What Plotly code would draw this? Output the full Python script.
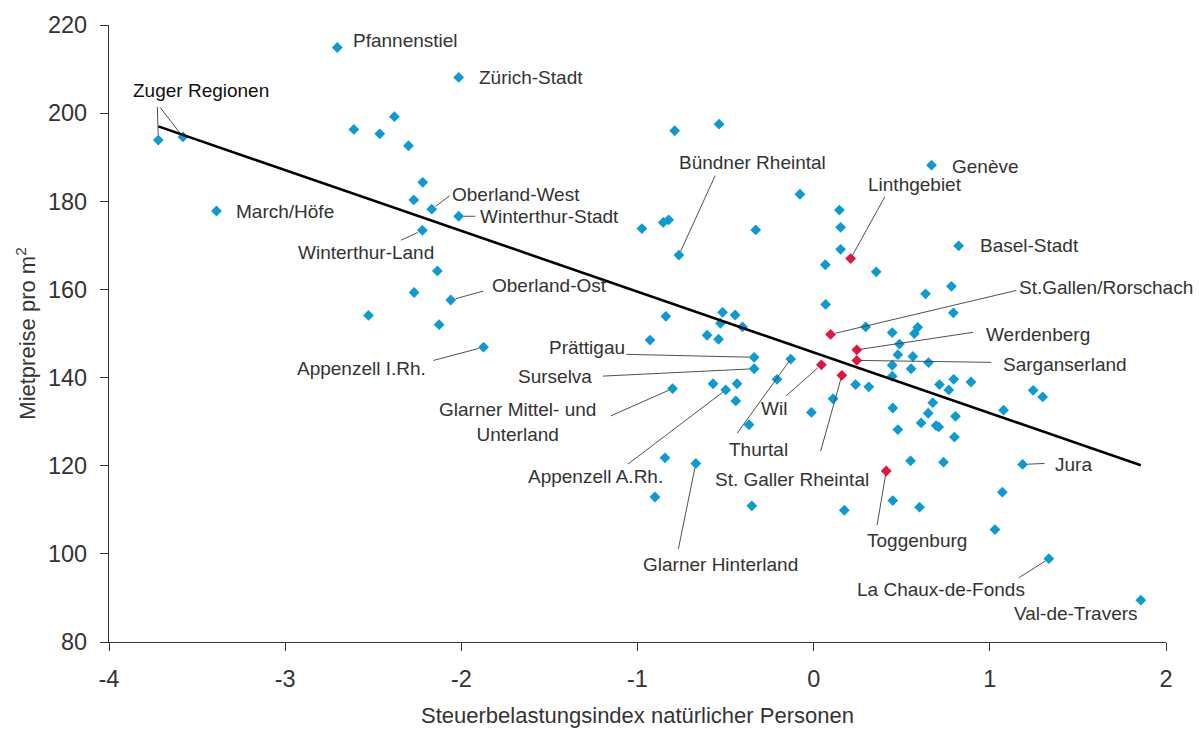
import plotly.graph_objects as go

# ---------------- data ----------------
# blue: regions (x = Steuerbelastungsindex, y = Mietpreise pro m2)
blue_names = [
    "Pfannenstiel", "Zürich-Stadt", "Zuger1", "Zuger2", "March/Höfe",
    "", "", "", "", "", "", "Oberland-West", "Winterthur-Land", "", "",
    "Winterthur-Stadt", "Oberland-Ost", "", "", "", "", "", "Bündner Rheintal",
    "", "", "", "", "", "", "Genève", "Basel-Stadt", "", "", "", "", "", "",
    "", "", "", "", "", "", "", "", "", "Thurtal", "", "", "", "", "", "",
    "", "", "", "", "", "", "", "", "", "", "", "", "", "", "", "", "",
    "Jura", "", "", "", "", "", "La Chaux-de-Fonds", "Val-de-Travers", "", "",
    "Appenzell I.Rh.", "", "", "", "", "", "", "", "", "Prättigau", "Surselva",
    "", "", "", "Appenzell A.Rh.", "", "Glarner Mittel- und<br>Unterland", "",
    "", "Glarner Hinterland", "", "",
]
blue_x = [
    -2.704, -2.015, -3.72, -3.58, -3.39,
    -2.61, -2.463, -2.38, -2.30, -2.219, -2.27, -2.168, -2.221, -2.136, -2.268,
    -2.015, -2.06, -0.975, -0.854, -0.823, -0.789, -0.537, -0.765,
    -0.329, -0.078, 0.146, 0.153, 0.153, 0.066, 0.669, 0.823, 0.355, 0.782, 0.635, 0.068, 0.793, 0.295,
    0.446, 0.591, 0.572, 0.487, 0.478, 0.563, 0.652, 0.446, 0.553, -0.130, 0.446, 0.238, 0.313, 0.714, 0.795, 0.893,
    0.767, 1.246, 1.30, 0.110, -0.013, 0.449, 0.676, 0.650, 0.805, 1.078, 0.478, 0.610, 0.695, 0.710, 0.799, 0.550, 0.737,
    1.186, 1.071, 0.449, 0.601, 0.174, 1.029, 1.335, 1.857, -2.527, -2.126,
    -1.874, -0.839, -0.517, -0.446, -0.529, -0.404, -0.605, -0.540, -0.929, -0.338, -0.338,
    -0.208, -0.571, -0.435, -0.499, -0.442, -0.801, -0.367,
    -0.844, -0.669, -0.901, -0.351,
]
blue_y = [
    214.9, 208.1, 193.9, 194.6, 177.8,
    196.3, 195.3, 199.2, 192.6, 184.3, 180.3, 178.2, 173.4, 164.2, 159.3,
    176.6, 157.6, 173.8, 175.2, 175.8, 196.0, 197.5, 167.8,
    173.5, 181.6, 178.0, 174.1, 169.1, 165.6, 188.2, 169.9, 164.0, 160.7, 159.0, 156.6, 154.7, 151.5,
    150.2, 151.4, 150.0, 147.6, 145.2, 144.8, 143.4, 142.8, 142.0, 144.2, 140.3, 138.4, 137.9, 138.4, 139.6, 139.0,
    137.2, 137.1, 135.6, 135.2, 132.1, 133.1, 134.3, 131.9, 131.2, 132.6, 128.2, 129.7, 129.1, 128.8, 126.5, 121.1, 120.8,
    120.3, 114.0, 112.1, 110.6, 109.9, 105.5, 98.9, 89.5, 154.1, 152.0,
    146.9, 153.9, 154.8, 154.2, 152.3, 151.5, 149.6, 148.7, 148.5, 144.6, 142.0,
    139.6, 138.6, 138.6, 137.2, 134.7, 137.5, 129.3,
    121.8, 120.5, 112.9, 110.9,
]

# red: St. Gallen regions
red_names = ["Linthgebiet", "St.Gallen/Rorschach", "Werdenberg", "Sarganserland",
             "Wil", "St. Galler Rheintal", "Toggenburg"]
red_x = [0.210, 0.096, 0.245, 0.245, 0.044, 0.160, 0.412]
red_y = [167.0, 149.8, 146.3, 143.9, 142.9, 140.5, 118.8]

# regression line
line_x = [-3.72, 1.857]
line_y = [197.0, 120.1]

x_ticks = [-4, -3, -2, -1, 0, 1, 2]
y_ticks = [80, 100, 120, 140, 160, 180, 200, 220]

BLUE = "#0B9BD1"
RED = "#E0163F"
FONT = "Liberation Sans, Arial, sans-serif"
TXT = "#333333"
LEAD = "#3c3c3c"

# label placement: name -> (xanchor, xshift, yshift, [(ax, ay, standoff), ...])
place = {
    "Pfannenstiel": ("left", 14, 7, []),
    "Zürich-Stadt": ("left", 18, 0, []),
    "March/Höfe": ("left", 18, -1, []),
    "Oberland-West": ("left", 18.7, 14.3, [(19.4, -14.6, 5)]),
    "Winterthur-Stadt": ("left", 19, 0, [(18, 0, 5)]),
    "Winterthur-Land": ("center", -56, -22.6, [(-23, 10.6, 5)]),
    "Oberland-Ost": ("left", 39, 14.3, [(34, -9.3, 5)]),
    "Appenzell I.Rh.": ("right", -55.6, -21.2, [(-51.6, 13.7, 5)]),
    "Bündner Rheintal": ("center", 74, 92.7, [(37, -81, 4)]),
    "Genève": ("left", 18, -1.3, []),
    "Basel-Stadt": ("left", 19, 0, []),
    "Thurtal": ("center", -32.4, -90.7, [(-54.7, 75.7, 2)]),
    "Jura": ("left", 30, 0, [(23.4, -1, 5)]),
    "La Chaux-de-Fonds": ("right", -21.4, -30.8, [(-31.4, 20, 4)]),
    "Val-de-Travers": ("right", -1, -13.8, []),
    "Prättigau": ("right", -127.6, 9.8, [(-129.3, -3, 5)]),
    "Surselva": ("right", -160, -7.4, [(-152.6, 7.4, 5)]),
    "Appenzell A.Rh.": ("center", -130.7, -86.3, [(-99.3, 75.3, 4)]),
    "Glarner Mittel- und<br>Unterland": ("center", -154.7, -33.2, [(-63.4, 28, 4)]),
    "Glarner Hinterland": ("center", 24.8, -100.5, [(-17.7, 86.7, 5)]),
    "Linthgebiet": ("center", 64.3, 73.8, [(35, -63.3, 4)]),
    "St.Gallen/Rorschach": ("left", 186.3, 46.6, [(187.3, -44.3, 5)]),
    "Werdenberg": ("left", 126.7, 15.5, [(117.7, -17.7, 4)]),
    "Sarganserland": ("left", 143.7, -3.8, [(136, 2, 4)]),
    "Wil": ("center", -47.7, -43.7, [(-36.7, 32.3, 5)]),
    "St. Galler Rheintal": ("center", -49.8, -104.5, [(-21.6, 77.3, 3)]),
    "Toggenburg": ("center", 30.5, -69.3, [(-9.4, 55.6, 3)]),
}

fig = go.Figure()
fig.add_trace(go.Scatter(x=blue_x, y=blue_y, mode="markers",
                         marker=dict(symbol="diamond", size=8.3, color=BLUE, line=dict(width=0)),
                         hoverinfo="skip", showlegend=False))
fig.add_trace(go.Scatter(x=line_x, y=line_y, mode="lines",
                         line=dict(color="#000000", width=2.6),
                         hoverinfo="skip", showlegend=False))
fig.add_trace(go.Scatter(x=red_x, y=red_y, mode="markers",
                         marker=dict(symbol="diamond", size=8.3, color=RED, line=dict(width=0)),
                         hoverinfo="skip", showlegend=False))

annotations = []


def point_of(name):
    if name in red_names:
        i = red_names.index(name)
        return red_x[i], red_y[i]
    i = blue_names.index(name)
    return blue_x[i], blue_y[i]


for name, (xa, xs, ys, leads) in place.items():
    px, py = point_of(name)
    annotations.append(dict(x=px, y=py, xref="x", yref="y", text=name, showarrow=False,
                            xanchor=xa, yanchor="middle", xshift=xs, yshift=ys, align="center",
                            font=dict(family=FONT, size=19, color=TXT)))
    for ax, ay, so in leads:
        annotations.append(dict(x=px, y=py, xref="x", yref="y", text="", showarrow=True,
                                arrowhead=0, arrowwidth=0.9, arrowcolor=LEAD,
                                ax=ax, ay=ay, standoff=so))

# Zuger Regionen: one label, two leader lines
zi1 = blue_names.index("Zuger1")
zi2 = blue_names.index("Zuger2")
annotations.append(dict(x=blue_x[zi1], y=blue_y[zi1], xref="x", yref="y", text="Zuger Regionen",
                        showarrow=False, xanchor="center", yanchor="middle", xshift=42.8, yshift=49.5,
                        font=dict(family=FONT, size=19, color="#111111")))
annotations.append(dict(x=blue_x[zi1], y=blue_y[zi1], xref="x", yref="y", text="", showarrow=True,
                        arrowhead=0, arrowwidth=0.9, arrowcolor=LEAD, ax=-1, ay=-34.6, standoff=5))
annotations.append(dict(x=blue_x[zi2], y=blue_y[zi2], xref="x", yref="y", text="", showarrow=True,
                        arrowhead=0, arrowwidth=0.9, arrowcolor=LEAD, ax=-24, ay=-31, standoff=4))

fig.update_layout(
    width=1199, height=736,
    margin=dict(l=109, r=33, t=21, b=90, pad=0),
    plot_bgcolor="white", paper_bgcolor="white",
    font=dict(family=FONT, size=22, color="#333333"),
    annotations=annotations,
    showlegend=False,
)
fig.update_xaxes(range=[-4, 2], tickvals=x_ticks, ticktext=[str(v) for v in x_ticks],
                 showgrid=False, zeroline=False, showline=True, linecolor="#333333", linewidth=1.2,
                 ticks="outside", ticklen=8, tickwidth=1.2, tickcolor="#333333",
                 ticklabelstandoff=8,
                 tickfont=dict(family=FONT, size=23.5, color="#333333"),
                 title=dict(text="Steuerbelastungsindex natürlicher Personen",
                            font=dict(family=FONT, size=22, color="#333333"), standoff=16))
fig.update_yaxes(range=[80, 220], tickvals=y_ticks, ticktext=[str(v) for v in y_ticks],
                 showgrid=False, zeroline=False, showline=True, linecolor="#333333", linewidth=1.2,
                 ticks="outside", ticklen=8, tickwidth=1.2, tickcolor="#333333",
                 ticklabelstandoff=8,
                 tickfont=dict(family=FONT, size=23.5, color="#333333"),
                 title=dict(text="Mietpreise pro m<sup>2</sup>",
                            font=dict(family=FONT, size=22, color="#333333"), standoff=6))

fig.write_html("out.html",
               config={"displayModeBar": False},
               post_script="document.body.style.margin='0';document.body.style.padding='0';"
                           "document.documentElement.style.overflow='hidden';")
